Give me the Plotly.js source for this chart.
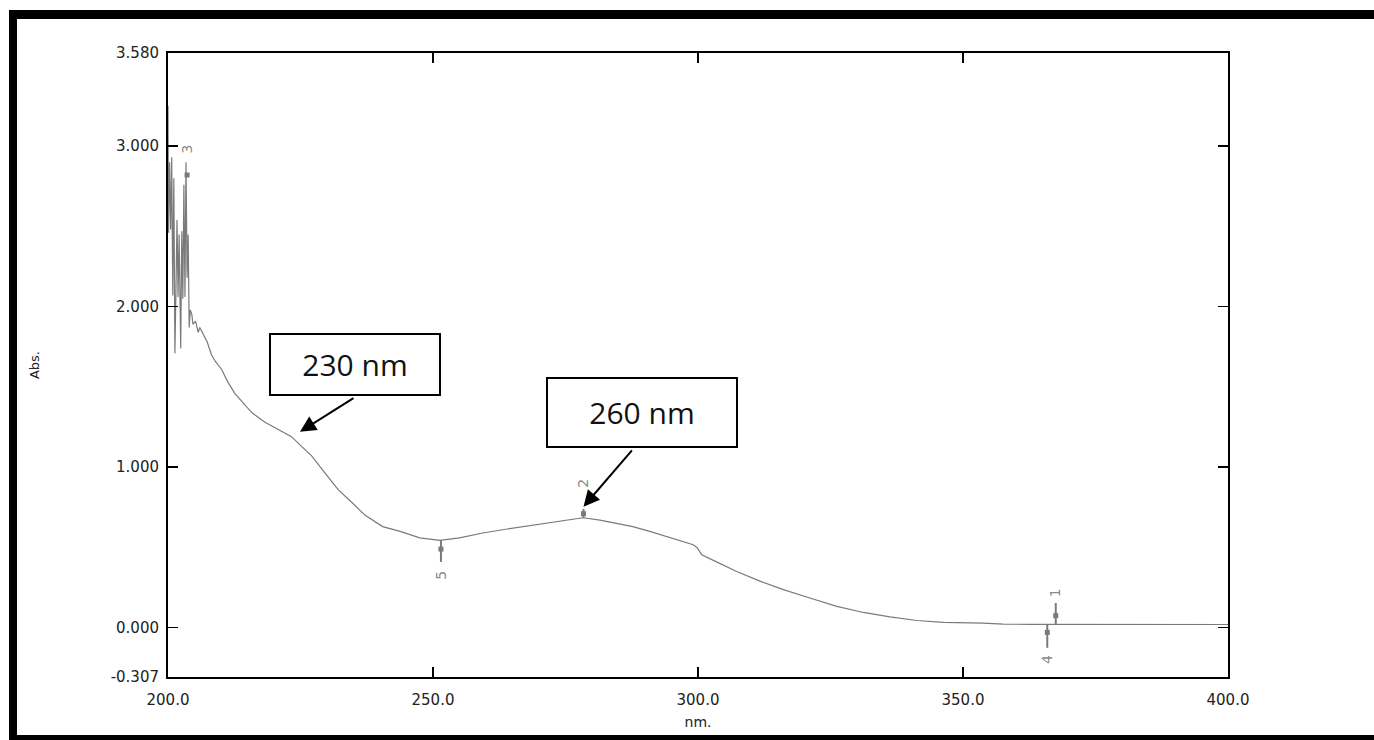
<!DOCTYPE html>
<html>
<head>
<meta charset="utf-8">
<script src="https://cdn.plot.ly/plotly-3.0.1.min.js"></script>
<style>
  html, body { margin: 0; padding: 0; background: #ffffff; overflow: hidden; }
  #chart { width: 1374px; height: 740px; }
</style>
</head>
<body>
<div id="chart"></div>
<script>
// Spectrum (wavelength in nm, absorbance)
const wavelength = [200.0,200.1,200.3,200.5,200.7,200.9,201.1,201.3,201.5,201.7,201.9,202.1,202.4,202.6,202.8,203.0,203.2,203.4,203.6,203.8,204.0,204.2,204.5,204.7,205.2,205.7,206.0,206.6,207.4,208.2,208.9,210.1,211.3,212.6,214.2,215.8,218.3,221.5,223.3,225.2,227.1,229.6,232.1,234.7,237.2,240.5,243.8,247.5,251.3,255.0,259.4,264.0,268.9,275.3,278.3,281.5,287.7,290.9,294.7,299.1,299.8,300.7,303.5,307.3,311.7,316.1,321.1,326.2,331.2,336.2,341.3,346.3,353.8,357.6,362.6,380.0,400.0];
const absorbance = [3.25,2.46,2.90,2.48,2.93,2.07,2.80,1.71,2.10,2.54,2.06,2.45,1.74,2.47,2.05,2.76,2.06,2.90,2.18,2.45,1.87,1.98,1.95,1.89,1.91,1.84,1.87,1.83,1.78,1.70,1.66,1.61,1.53,1.46,1.40,1.34,1.28,1.22,1.19,1.13,1.07,0.965,0.86,0.78,0.70,0.63,0.60,0.56,0.544,0.56,0.59,0.615,0.64,0.67,0.685,0.67,0.63,0.60,0.56,0.517,0.50,0.455,0.41,0.35,0.29,0.237,0.185,0.133,0.095,0.067,0.045,0.033,0.029,0.022,0.021,0.021,0.020];

// Peak / valley picks
const pickLabels = ['1','2','3','4','5'];
const pickNm = [367.5, 278.4, 203.6, 365.9, 251.5];
const pickAbs = [0.075, 0.71, 2.82, -0.029, 0.49];
const pickTop = [0.154, 0.74, 2.82, 0.023, 0.544];
const pickBottom = [0.023, 0.685, 2.82, -0.125, 0.41];
const pickLabelAbs = [0.22, 0.90, 2.98, -0.20, 0.33];

// Axis ticks
const xTickVals = [200, 250, 300, 350, 400];
const xTickText = ['200.0','250.0','300.0','350.0','400.0'];
const yTickVals = [3.58, 3.0, 2.0, 1.0, 0.0, -0.307];
const yTickText = ['3.580','3.000','2.000','1.000','0.000','-0.307'];

// Callouts
const calloutText = ['230 nm', '260 nm'];
const calloutNm = [224.9, 278.4];
const calloutAbs = [1.22, 0.754];

const traces = [
  {
    x: wavelength, y: absorbance, type: 'scatter', mode: 'lines',
    line: { color: '#7a7a7a', width: 1.2 }, hoverinfo: 'x+y', showlegend: false
  },
  {
    x: pickNm, y: pickAbs, type: 'scatter', mode: 'markers',
    marker: { symbol: 'square', size: 5, color: '#7a7a7a' },
    error_y: {
      type: 'data', symmetric: false,
      array: pickTop.map((t, i) => t - pickAbs[i]),
      arrayminus: pickBottom.map((b, i) => pickAbs[i] - b),
      color: '#7a7a7a', thickness: 2, width: 0
    },
    showlegend: false
  }
];

const annotations = [];
pickLabels.forEach((lab, i) => {
  annotations.push({
    x: pickNm[i], y: pickLabelAbs[i], xref: 'x', yref: 'y', text: lab,
    showarrow: false, textangle: -90,
    font: { family: 'DejaVu Sans', size: 14, color: '#8a8a8a' }
  });
});

// boxes
const boxCenters = [[235.28, 1.642], [289.34, 1.340]];
const boxSizes = [[168, 59], [188, 67]];
const arrowOffsets = [[55, -34.7], [49.7, -57.7]];
calloutText.forEach((t, i) => {
  annotations.push({
    x: boxCenters[i][0], y: boxCenters[i][1], xref: 'x', yref: 'y',
    text: t, showarrow: false,
    width: boxSizes[i][0], height: boxSizes[i][1],
    bordercolor: '#000000', borderwidth: 2, borderpad: 0, bgcolor: '#ffffff',
    font: { family: 'Open Sans', size: 30, color: '#111111' }
  });
  annotations.push({
    x: calloutNm[i], y: calloutAbs[i], xref: 'x', yref: 'y', text: '',
    showarrow: true, ax: arrowOffsets[i][0], ay: arrowOffsets[i][1],
    arrowhead: 2, arrowsize: 1.6, arrowwidth: 2, arrowcolor: '#000000', standoff: 0
  });
});

const L = 168, R = 146, T = 53, B = 63, W = 1374, H = 740;
const pw = W - L - R, ph = H - T - B;
const px2x = p => (p - L) / pw;
const py2y = p => (H - B - p) / ph;

const shapes = [
  { type: 'line', xref: 'paper', yref: 'paper', x0: px2x(9), x1: px2x(1374), y0: py2y(14.5), y1: py2y(14.5), line: { color: '#000', width: 9 } },
  { type: 'line', xref: 'paper', yref: 'paper', x0: px2x(13), x1: px2x(13), y0: py2y(10), y1: py2y(740), line: { color: '#000', width: 8 } },
  { type: 'line', xref: 'paper', yref: 'paper', x0: px2x(9), x1: px2x(1374), y0: py2y(738), y1: py2y(738), line: { color: '#000', width: 6 } }
];

const tickFont = { family: 'DejaVu Sans', size: 15, color: '#222222' };

const layout = {
  width: W, height: H,
  margin: { l: L, r: R, t: T, b: B, pad: 0 },
  paper_bgcolor: '#ffffff', plot_bgcolor: '#ffffff',
  showlegend: false,
  xaxis: {
    range: [200, 400], tickmode: 'array', tickvals: xTickVals, ticktext: xTickText,
    ticks: 'inside', ticklen: 10, tickwidth: 1.5, tickcolor: '#000',
    showline: true, linecolor: '#000', linewidth: 2, mirror: 'ticks',
    showgrid: false, zeroline: false, tickfont: tickFont, ticklabelstandoff: 8,
    title: { text: 'nm.', font: { family: 'DejaVu Sans', size: 14, color: '#222' }, standoff: 9 }
  },
  yaxis: {
    range: [-0.307, 3.58], tickmode: 'array', tickvals: yTickVals, ticktext: yTickText,
    ticks: 'inside', ticklen: 10, tickwidth: 1.5, tickcolor: '#000',
    showline: true, linecolor: '#000', linewidth: 2, mirror: 'ticks',
    showgrid: false, zeroline: false, tickfont: tickFont, ticklabelstandoff: 4,
    title: { text: 'Abs.', font: { family: 'DejaVu Sans', size: 13, color: '#222' }, standoff: 68 }
  },
  annotations: annotations,
  shapes: shapes
};

Plotly.newPlot('chart', traces, layout, { displayModeBar: false, staticPlot: true });
</script>
</body>
</html>
